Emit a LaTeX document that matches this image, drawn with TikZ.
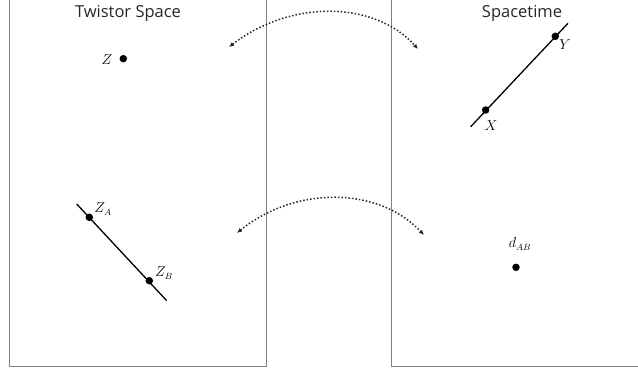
\documentclass[tikz,border=0pt]{standalone}
\usepackage{fontspec}
\setsansfont{Open Sans}
\usetikzlibrary{arrows.meta}
\begin{document}
\begin{tikzpicture}[x=1pt,y=-1pt,
  panel/.style={draw=black!50,line width=1pt},
  title/.style={font=\sffamily\fontsize{16.5}{19}\selectfont,text=black!85,anchor=base,inner sep=0pt},
  dotpt/.style={circle,fill=black,inner sep=0pt,minimum size=7.5pt},
  lab/.style={font=\fontsize{13.5}{15}\selectfont,inner sep=0pt},
  segline/.style={line width=1.3pt},
  corr/.style={line width=1.5pt,dotted,black!85,{Latex[length=5pt,width=4.5pt]}-{Latex[length=5pt,width=4.5pt]}}]
\useasboundingbox (0,0) rectangle (638,370);
\clip (0,0) rectangle (638,370);
% panels
\draw[panel] (9.5,-5) rectangle (266.5,366);
\draw[panel] (391,-5) rectangle (645,366);
% titles
\node[title] (tt) at (128,17) {Twistor Space};
\node[title] (st) at (522,17) {Spacetime};
% top-left point
\node[dotpt] (z) at (123.3,58.7) {};
\node[lab] (zl) at (107,60) {$Z$};
% top-right line
\coordinate (r1) at (470.7,126.7);
\coordinate (r2) at (568,23.3);
\draw[segline] (r1) -- (r2);
\node[dotpt] (x) at (485.7,110) {};
\node[dotpt] (y) at (555.3,36.3) {};
\node[lab] (yl) at (565,45) {$Y$};
\node[lab] (xl) at (491,126) {$X$};
% bottom-left line
\coordinate (l1) at (76.7,204);
\coordinate (l2) at (166.7,300.7);
\draw[segline] (l1) -- (l2);
\node[dotpt] (za) at (89.3,217.3) {};
\node[dotpt] (zb) at (149.3,280.7) {};
\node[lab] (zal) at (103,209) {$Z_A$};
\node[lab] (zbl) at (164,273) {$Z_B$};
% bottom-right point
\node[dotpt] (d) at (516,267.3) {};
\node[lab] (dl) at (520,244) {$d_{AB}$};
% correspondence arrows
\coordinate (a1) at (229,47);
\coordinate (a2) at (418,49);
\draw[corr] (a1) .. controls (290,0) and (374,0) .. (a2);
\coordinate (b1) at (237,233);
\coordinate (b2) at (424,235);
\draw[corr] (b1) .. controls (295,186) and (378,186) .. (b2);
\end{tikzpicture}
\end{document}
